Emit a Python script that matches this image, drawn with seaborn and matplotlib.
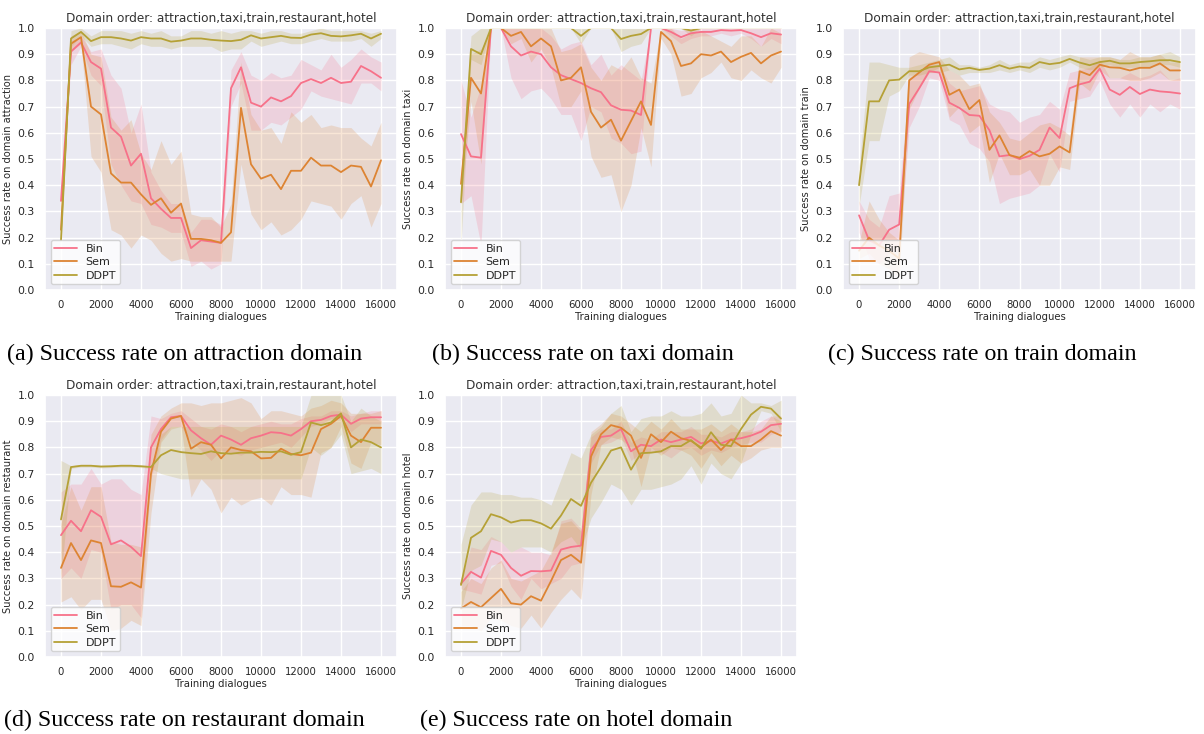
import numpy as np
import matplotlib
matplotlib.use("Agg")
import matplotlib.pyplot as plt
import seaborn as sns

# training dialogues (x axis)
steps = list(range(0, 16001, 500))
methods = ["Bin", "Sem", "DDPT"]
domains = ["attraction", "taxi", "train", "restaurant", "hotel"]
captions = [
    "(a) Success rate on attraction domain",
    "(b) Success rate on taxi domain",
    "(c) Success rate on train domain",
    "(d) Success rate on restaurant domain",
    "(e) Success rate on hotel domain",
]

# ---------------- attraction ----------------
attraction_bin = [0.34, 0.91, 0.945, 0.87, 0.845, 0.62, 0.585, 0.475, 0.52, 0.35, 0.31, 0.275, 0.275, 0.16, 0.19, 0.185, 0.18,
                  0.77, 0.85, 0.715, 0.70, 0.735, 0.72, 0.74, 0.79, 0.805, 0.79, 0.81, 0.79, 0.795, 0.855, 0.835, 0.81]
attraction_bin_lo = [0.33, 0.86, 0.93, 0.82, 0.78, 0.48, 0.40, 0.34, 0.33, 0.25, 0.24, 0.22, 0.22, 0.09, 0.11, 0.08, 0.10,
                     0.70, 0.79, 0.61, 0.61, 0.64, 0.63, 0.66, 0.69, 0.76, 0.74, 0.73, 0.72, 0.71, 0.79, 0.79, 0.76]
attraction_bin_hi = [0.35, 0.95, 0.97, 0.91, 0.92, 0.82, 0.77, 0.60, 0.71, 0.45, 0.38, 0.33, 0.33, 0.22, 0.27, 0.27, 0.25,
                     0.84, 0.91, 0.82, 0.80, 0.83, 0.81, 0.82, 0.88, 0.86, 0.84, 0.90, 0.85, 0.88, 0.92, 0.89, 0.87]
attraction_sem = [0.23, 0.94, 0.965, 0.70, 0.67, 0.445, 0.41, 0.41, 0.365, 0.325, 0.35, 0.295, 0.33, 0.195, 0.195, 0.19, 0.18,
                  0.22, 0.695, 0.48, 0.425, 0.44, 0.385, 0.455, 0.455, 0.505, 0.475, 0.475, 0.45, 0.475, 0.47, 0.395, 0.495]
attraction_sem_lo = [0.22, 0.91, 0.94, 0.51, 0.45, 0.23, 0.21, 0.16, 0.21, 0.19, 0.14, 0.11, 0.12, 0.11, 0.11, 0.11, 0.11,
                     0.11, 0.48, 0.29, 0.23, 0.26, 0.21, 0.23, 0.27, 0.34, 0.33, 0.32, 0.27, 0.33, 0.36, 0.24, 0.33]
attraction_sem_hi = [0.24, 0.97, 0.99, 0.90, 0.89, 0.66, 0.61, 0.65, 0.52, 0.46, 0.57, 0.48, 0.53, 0.29, 0.28, 0.28, 0.24,
                     0.33, 0.87, 0.67, 0.61, 0.62, 0.56, 0.68, 0.64, 0.67, 0.62, 0.63, 0.62, 0.62, 0.58, 0.55, 0.64]
attraction_ddpt = [0.19, 0.96, 0.985, 0.95, 0.965, 0.965, 0.96, 0.952, 0.965, 0.96, 0.96, 0.948, 0.952, 0.96, 0.96, 0.955, 0.952,
                   0.95, 0.955, 0.972, 0.96, 0.965, 0.97, 0.963, 0.962, 0.975, 0.98, 0.97, 0.968, 0.972, 0.978, 0.96, 0.978]
attraction_ddpt_lo = [0.17, 0.93, 0.97, 0.93, 0.94, 0.94, 0.93, 0.92, 0.94, 0.93, 0.93, 0.92, 0.93, 0.93, 0.93, 0.93, 0.91,
                      0.92, 0.92, 0.95, 0.93, 0.94, 0.95, 0.94, 0.94, 0.95, 0.96, 0.95, 0.95, 0.95, 0.96, 0.93, 0.96]
attraction_ddpt_hi = [0.21, 0.99, 1.0, 0.97, 0.99, 0.99, 0.99, 0.98, 0.99, 0.98, 0.99, 0.97, 0.97, 0.99, 0.99, 0.98, 0.99,
                      0.98, 0.99, 0.99, 0.98, 0.99, 0.99, 0.98, 0.98, 0.99, 1.0, 0.99, 0.99, 0.99, 0.99, 0.98, 0.99]

# ---------------- taxi ----------------
taxi_bin = [0.595, 0.51, 0.505, 1.0, 1.0, 0.93, 0.895, 0.91, 0.90, 0.85, 0.82, 0.805, 0.79, 0.77, 0.755, 0.705, 0.688,
            0.685, 0.668, 1.0, 1.0, 0.985, 0.965, 0.98, 0.985, 0.985, 0.992, 0.99, 0.992, 0.98, 0.965, 0.98, 0.975]
taxi_bin_lo = [0.33, 0.36, 0.17, 1.0, 1.0, 0.81, 0.73, 0.76, 0.77, 0.73, 0.67, 0.67, 0.57, 0.70, 0.68, 0.58, 0.56,
               0.52, 0.53, 1.0, 1.0, 0.97, 0.94, 0.96, 0.97, 0.97, 0.98, 0.97, 0.98, 0.96, 0.93, 0.96, 0.94]
taxi_bin_hi = [0.80, 0.66, 0.78, 1.0, 1.0, 1.0, 1.0, 1.0, 1.0, 0.97, 0.92, 0.94, 0.95, 0.86, 0.90, 0.82, 0.86,
               0.83, 0.80, 1.0, 1.0, 1.0, 0.99, 1.0, 1.0, 1.0, 1.0, 1.0, 1.0, 1.0, 1.0, 1.0, 1.0]
taxi_sem = [0.405, 0.81, 0.75, 1.0, 1.0, 0.97, 0.985, 0.93, 0.96, 0.93, 0.80, 0.81, 0.85, 0.68, 0.62, 0.65, 0.57,
            0.645, 0.72, 0.63, 0.985, 0.95, 0.855, 0.865, 0.90, 0.895, 0.91, 0.87, 0.89, 0.905, 0.865, 0.895, 0.91]
taxi_sem_lo = [0.33, 0.72, 0.48, 1.0, 1.0, 0.94, 0.96, 0.87, 0.92, 0.85, 0.70, 0.70, 0.76, 0.51, 0.43, 0.44, 0.30,
               0.40, 0.62, 0.47, 0.96, 0.90, 0.74, 0.75, 0.81, 0.83, 0.87, 0.81, 0.80, 0.84, 0.81, 0.79, 0.85]
taxi_sem_hi = [0.45, 0.90, 0.92, 1.0, 1.0, 1.0, 1.0, 1.0, 1.0, 1.0, 0.91, 0.92, 0.94, 0.85, 0.80, 0.86, 0.84,
               0.89, 0.81, 0.79, 1.0, 1.0, 0.96, 0.98, 0.99, 0.97, 0.95, 0.93, 0.97, 0.97, 0.93, 1.0, 0.98]
taxi_ddpt = [0.335, 0.92, 0.90, 1.0, 1.0, 1.0, 1.0, 1.0, 1.0, 1.0, 1.0, 1.0, 0.97, 1.0, 1.0, 1.0, 0.958,
             0.97, 0.977, 1.0, 1.0, 1.0, 1.0, 0.99, 1.0, 1.0, 1.0, 1.0, 1.0, 1.0, 1.0, 1.0, 1.0]
taxi_ddpt_lo = [0.17, 0.88, 0.86, 1.0, 1.0, 1.0, 1.0, 1.0, 1.0, 1.0, 1.0, 1.0, 0.94, 1.0, 1.0, 1.0, 0.91,
                0.93, 0.94, 1.0, 1.0, 1.0, 1.0, 0.97, 1.0, 1.0, 1.0, 1.0, 1.0, 1.0, 1.0, 1.0, 1.0]
taxi_ddpt_hi = [0.45, 0.97, 1.0, 1.0, 1.0, 1.0, 1.0, 1.0, 1.0, 1.0, 1.0, 1.0, 1.0, 1.0, 1.0, 1.0, 1.0,
                1.0, 1.0, 1.0, 1.0, 1.0, 1.0, 1.0, 1.0, 1.0, 1.0, 1.0, 1.0, 1.0, 1.0, 1.0, 1.0]

# ---------------- train ----------------
train_bin = [0.285, 0.19, 0.17, 0.23, 0.25, 0.71, 0.77, 0.835, 0.83, 0.715, 0.695, 0.668, 0.665, 0.61, 0.51, 0.515, 0.50,
             0.512, 0.535, 0.62, 0.58, 0.77, 0.785, 0.795, 0.845, 0.765, 0.745, 0.775, 0.748, 0.765, 0.758, 0.755, 0.75]
train_bin_lo = [0.22, 0.12, 0.10, 0.14, 0.15, 0.62, 0.70, 0.81, 0.80, 0.65, 0.63, 0.56, 0.54, 0.49, 0.33, 0.35, 0.36,
                0.37, 0.40, 0.52, 0.45, 0.72, 0.73, 0.74, 0.80, 0.71, 0.66, 0.71, 0.66, 0.71, 0.68, 0.71, 0.69]
train_bin_hi = [0.34, 0.27, 0.24, 0.36, 0.37, 0.80, 0.84, 0.86, 0.86, 0.79, 0.76, 0.77, 0.78, 0.71, 0.69, 0.68, 0.64,
                0.66, 0.67, 0.72, 0.69, 0.83, 0.84, 0.85, 0.88, 0.81, 0.81, 0.83, 0.81, 0.82, 0.84, 0.80, 0.81]
train_sem = [0.15, 0.20, 0.17, 0.15, 0.12, 0.80, 0.83, 0.86, 0.87, 0.745, 0.765, 0.69, 0.725, 0.535, 0.59, 0.515, 0.505,
             0.53, 0.51, 0.52, 0.548, 0.525, 0.835, 0.82, 0.86, 0.85, 0.848, 0.838, 0.848, 0.848, 0.865, 0.838, 0.838]
train_sem_lo = [0.12, 0.14, 0.10, 0.08, 0.05, 0.69, 0.77, 0.83, 0.85, 0.66, 0.70, 0.60, 0.63, 0.41, 0.52, 0.44, 0.44,
                0.46, 0.40, 0.40, 0.47, 0.46, 0.79, 0.76, 0.84, 0.81, 0.81, 0.80, 0.80, 0.81, 0.83, 0.80, 0.80]
train_sem_hi = [0.18, 0.34, 0.27, 0.22, 0.19, 0.89, 0.91, 0.90, 0.89, 0.84, 0.82, 0.78, 0.79, 0.68, 0.64, 0.58, 0.57,
                0.60, 0.63, 0.64, 0.62, 0.59, 0.89, 0.89, 0.89, 0.89, 0.88, 0.91, 0.89, 0.89, 0.90, 0.87, 0.87]
train_ddpt = [0.40, 0.72, 0.72, 0.80, 0.803, 0.835, 0.835, 0.85, 0.855, 0.86, 0.842, 0.848, 0.84, 0.845, 0.858, 0.845, 0.853,
              0.848, 0.87, 0.862, 0.867, 0.882, 0.868, 0.858, 0.87, 0.875, 0.865, 0.865, 0.87, 0.873, 0.877, 0.877, 0.87]
train_ddpt_lo = [0.32, 0.57, 0.57, 0.74, 0.76, 0.82, 0.82, 0.83, 0.83, 0.84, 0.82, 0.83, 0.83, 0.83, 0.84, 0.83, 0.84,
                 0.83, 0.85, 0.84, 0.85, 0.87, 0.85, 0.84, 0.85, 0.86, 0.85, 0.85, 0.85, 0.85, 0.86, 0.86, 0.85]
train_ddpt_hi = [0.47, 0.87, 0.87, 0.86, 0.85, 0.85, 0.86, 0.87, 0.88, 0.89, 0.86, 0.86, 0.85, 0.86, 0.88, 0.86, 0.87,
                 0.87, 0.89, 0.88, 0.89, 0.90, 0.89, 0.88, 0.89, 0.89, 0.88, 0.88, 0.89, 0.89, 0.90, 0.91, 0.89]

# ---------------- restaurant ----------------
restaurant_bin = [0.465, 0.52, 0.48, 0.56, 0.535, 0.43, 0.445, 0.42, 0.385, 0.80, 0.87, 0.915, 0.92, 0.865, 0.835, 0.81, 0.845,
                  0.83, 0.81, 0.835, 0.845, 0.858, 0.855, 0.845, 0.87, 0.90, 0.905, 0.92, 0.925, 0.89, 0.91, 0.915, 0.915]
restaurant_bin_lo = [0.30, 0.34, 0.30, 0.41, 0.40, 0.18, 0.20, 0.20, 0.15, 0.68, 0.83, 0.88, 0.88, 0.82, 0.79, 0.75, 0.79,
                     0.78, 0.77, 0.79, 0.80, 0.81, 0.82, 0.80, 0.84, 0.88, 0.89, 0.91, 0.91, 0.86, 0.89, 0.89, 0.89]
restaurant_bin_hi = [0.63, 0.66, 0.66, 0.72, 0.66, 0.68, 0.68, 0.64, 0.62, 0.92, 0.91, 0.93, 0.94, 0.91, 0.88, 0.87, 0.89,
                     0.88, 0.86, 0.88, 0.89, 0.90, 0.89, 0.89, 0.91, 0.92, 0.92, 0.94, 0.94, 0.92, 0.93, 0.94, 0.94]
restaurant_sem = [0.34, 0.435, 0.37, 0.445, 0.435, 0.27, 0.268, 0.285, 0.265, 0.70, 0.86, 0.91, 0.92, 0.795, 0.82, 0.81, 0.758,
                  0.80, 0.79, 0.785, 0.758, 0.76, 0.795, 0.775, 0.77, 0.78, 0.87, 0.89, 0.92, 0.845, 0.82, 0.875, 0.875]
restaurant_sem_lo = [0.21, 0.23, 0.18, 0.22, 0.22, 0.10, 0.11, 0.14, 0.12, 0.55, 0.82, 0.87, 0.88, 0.61, 0.68, 0.64, 0.55,
                     0.61, 0.58, 0.60, 0.61, 0.58, 0.65, 0.62, 0.62, 0.61, 0.78, 0.80, 0.88, 0.74, 0.72, 0.82, 0.81]
restaurant_sem_hi = [0.51, 0.65, 0.56, 0.65, 0.65, 0.44, 0.43, 0.43, 0.42, 0.85, 0.92, 0.95, 0.97, 0.97, 0.96, 0.97, 0.97,
                     0.98, 0.99, 0.97, 0.91, 0.94, 0.94, 0.93, 0.92, 0.95, 0.96, 0.98, 0.97, 0.93, 0.93, 0.93, 0.94]
restaurant_ddpt = [0.525, 0.725, 0.73, 0.73, 0.727, 0.728, 0.73, 0.73, 0.728, 0.725, 0.77, 0.79, 0.782, 0.778, 0.775, 0.785, 0.778,
                   0.776, 0.78, 0.78, 0.783, 0.782, 0.785, 0.772, 0.782, 0.895, 0.885, 0.895, 0.93, 0.80, 0.83, 0.82, 0.80]
restaurant_ddpt_lo = [0.30, 0.72, 0.725, 0.725, 0.722, 0.723, 0.725, 0.725, 0.723, 0.72, 0.70, 0.69, 0.68, 0.68, 0.68, 0.68, 0.68,
                      0.68, 0.68, 0.68, 0.68, 0.68, 0.68, 0.68, 0.68, 0.80, 0.77, 0.80, 0.85, 0.70, 0.71, 0.72, 0.70]
restaurant_ddpt_hi = [0.75, 0.73, 0.735, 0.735, 0.732, 0.733, 0.735, 0.735, 0.733, 0.73, 0.85, 0.88, 0.88, 0.88, 0.88, 0.88, 0.88,
                      0.88, 0.88, 0.88, 0.88, 0.88, 0.88, 0.88, 0.88, 1.0, 1.0, 1.0, 1.0, 0.90, 0.95, 0.92, 0.90]

# ---------------- hotel ----------------
hotel_bin = [0.28, 0.325, 0.303, 0.405, 0.39, 0.34, 0.31, 0.328, 0.327, 0.33, 0.41, 0.42, 0.425, 0.79, 0.84, 0.845, 0.87,
             0.785, 0.81, 0.805, 0.83, 0.82, 0.83, 0.84, 0.815, 0.825, 0.815, 0.83, 0.835, 0.845, 0.86, 0.885, 0.89]
hotel_bin_lo = [0.26, 0.25, 0.24, 0.35, 0.36, 0.27, 0.22, 0.30, 0.26, 0.28, 0.30, 0.35, 0.36, 0.74, 0.81, 0.82, 0.84,
                0.75, 0.78, 0.78, 0.78, 0.76, 0.79, 0.80, 0.77, 0.79, 0.78, 0.80, 0.81, 0.82, 0.82, 0.85, 0.86]
hotel_bin_hi = [0.30, 0.42, 0.41, 0.46, 0.44, 0.40, 0.42, 0.40, 0.40, 0.39, 0.52, 0.53, 0.49, 0.84, 0.87, 0.87, 0.90,
                0.82, 0.84, 0.83, 0.86, 0.86, 0.86, 0.88, 0.85, 0.85, 0.84, 0.86, 0.86, 0.87, 0.90, 0.92, 0.92]
hotel_sem = [0.185, 0.21, 0.19, 0.225, 0.26, 0.205, 0.20, 0.232, 0.215, 0.29, 0.37, 0.39, 0.36, 0.765, 0.85, 0.885, 0.875,
             0.845, 0.76, 0.85, 0.82, 0.86, 0.835, 0.825, 0.80, 0.83, 0.79, 0.83, 0.805, 0.805, 0.83, 0.862, 0.845]
hotel_sem_lo = [0.12, 0.12, 0.10, 0.15, 0.14, 0.12, 0.11, 0.16, 0.11, 0.17, 0.22, 0.26, 0.22, 0.62, 0.81, 0.84, 0.83,
                0.80, 0.65, 0.80, 0.77, 0.80, 0.79, 0.77, 0.72, 0.78, 0.73, 0.77, 0.74, 0.76, 0.79, 0.80, 0.80]
hotel_sem_hi = [0.25, 0.30, 0.28, 0.34, 0.37, 0.30, 0.29, 0.31, 0.33, 0.40, 0.51, 0.52, 0.48, 0.86, 0.89, 0.93, 0.92,
                0.89, 0.86, 0.90, 0.87, 0.91, 0.87, 0.87, 0.87, 0.89, 0.86, 0.89, 0.86, 0.86, 0.87, 0.92, 0.90]
hotel_ddpt = [0.275, 0.455, 0.48, 0.545, 0.533, 0.513, 0.522, 0.522, 0.51, 0.49, 0.54, 0.603, 0.577, 0.665, 0.725, 0.788, 0.80,
              0.715, 0.778, 0.78, 0.785, 0.805, 0.805, 0.828, 0.795, 0.858, 0.81, 0.805, 0.87, 0.925, 0.955, 0.948, 0.91]
hotel_ddpt_lo = [0.18, 0.33, 0.35, 0.45, 0.44, 0.40, 0.42, 0.42, 0.42, 0.40, 0.44, 0.46, 0.41, 0.53, 0.59, 0.66, 0.64,
                 0.58, 0.64, 0.64, 0.65, 0.66, 0.68, 0.73, 0.66, 0.74, 0.70, 0.68, 0.74, 0.85, 0.94, 0.93, 0.86]
hotel_ddpt_hi = [0.43, 0.58, 0.63, 0.63, 0.62, 0.62, 0.61, 0.61, 0.60, 0.58, 0.68, 0.78, 0.76, 0.85, 0.88, 0.93, 0.96,
                 0.86, 0.91, 0.92, 0.92, 0.94, 0.92, 0.92, 0.93, 0.97, 0.92, 0.93, 1.0, 0.97, 0.97, 0.96, 0.98]

series = {
    "attraction": [(attraction_bin, attraction_bin_lo, attraction_bin_hi),
                   (attraction_sem, attraction_sem_lo, attraction_sem_hi),
                   (attraction_ddpt, attraction_ddpt_lo, attraction_ddpt_hi)],
    "taxi": [(taxi_bin, taxi_bin_lo, taxi_bin_hi),
             (taxi_sem, taxi_sem_lo, taxi_sem_hi),
             (taxi_ddpt, taxi_ddpt_lo, taxi_ddpt_hi)],
    "train": [(train_bin, train_bin_lo, train_bin_hi),
              (train_sem, train_sem_lo, train_sem_hi),
              (train_ddpt, train_ddpt_lo, train_ddpt_hi)],
    "restaurant": [(restaurant_bin, restaurant_bin_lo, restaurant_bin_hi),
                   (restaurant_sem, restaurant_sem_lo, restaurant_sem_hi),
                   (restaurant_ddpt, restaurant_ddpt_lo, restaurant_ddpt_hi)],
    "hotel": [(hotel_bin, hotel_bin_lo, hotel_bin_hi),
              (hotel_sem, hotel_sem_lo, hotel_sem_hi),
              (hotel_ddpt, hotel_ddpt_lo, hotel_ddpt_hi)],
}

sns.set_theme(style="darkgrid")
colors = ["#f77189", "#dd8433", "#b5a136"]

W, H = 1204, 734
fig = plt.figure(figsize=(W / 100, H / 100), dpi=100)

# axes boxes in pixels: left, top, width, height
boxes = [(45, 28, 352, 262), (445, 28, 352, 262), (843, 28, 353, 262),
         (45, 395, 352, 262), (445, 395, 352, 262)]
caption_pos = [(7, 354), (432, 354), (828, 354), (4, 720), (420, 720)]

for i, dom in enumerate(domains):
    l, t, w, h = boxes[i]
    ax = fig.add_axes([l / W, 1 - (t + h) / H, w / W, h / H])
    for j, (mean, lo, hi) in enumerate(series[dom]):
        sns.lineplot(x=steps, y=mean, ax=ax, color=colors[j], label=methods[j], linewidth=1.3)
        ax.fill_between(steps, lo, hi, color=colors[j], alpha=0.2, linewidth=0)
    ax.set_ylim(0, 1.0)
    ax.set_yticks(np.arange(0, 1.01, 0.1))
    ax.set_xticks(range(0, 16001, 2000))
    ax.tick_params(axis="y", labelsize=7.8, pad=1.5)
    ax.tick_params(axis="x", labelsize=7.3, pad=1.5)
    ax.set_title("Domain order: attraction,taxi,train,restaurant,hotel", fontsize=8.7, pad=4, color="#333333")
    ax.set_xlabel("Training dialogues", fontsize=7.3, labelpad=1)
    ax.set_ylabel("Success rate on domain " + dom, fontsize=7.1, labelpad=3)
    ax.legend(loc="lower left", fontsize=8.0, frameon=True, facecolor="white", framealpha=0.8,
              borderpad=0.35, handlelength=2.0, labelspacing=0.3)
    cx, cy = caption_pos[i]
    fig.text(cx / W, 1 - cy / H, captions[i], fontsize=17.3, family="Liberation Serif",
             va="center", ha="left", color="black")

fig.savefig("out.png", dpi=100)
